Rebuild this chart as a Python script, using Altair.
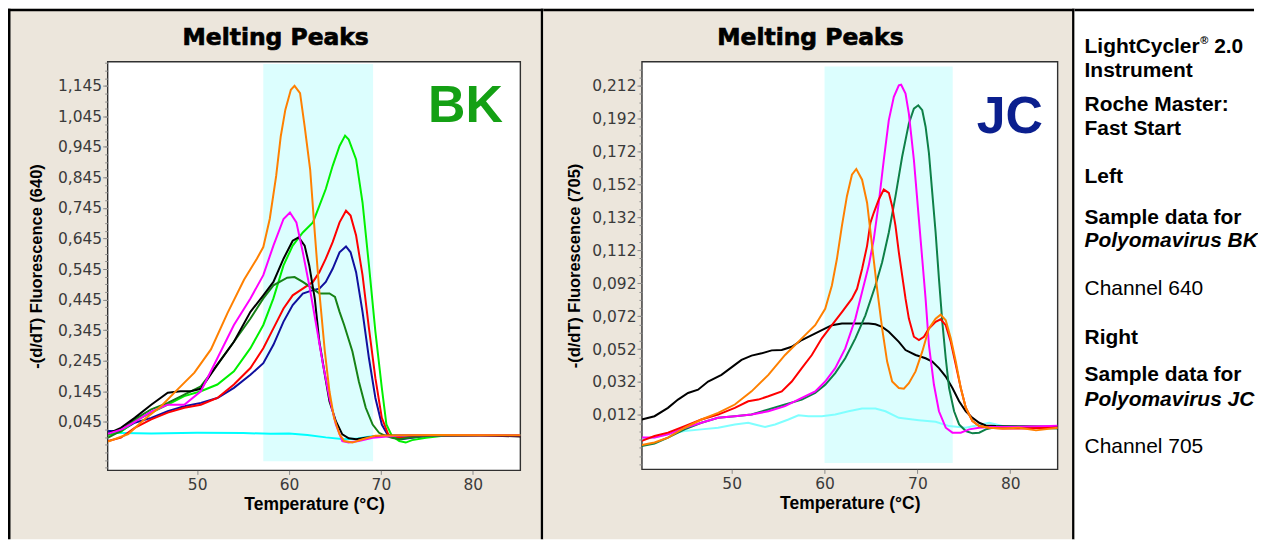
import altair as alt
import pandas as pd

# ---------------- data ----------------
# Left panel: Polyomavirus BK, channel 640
bk_orange_t = [40.3, 42.5, 44.3, 46.1, 47.9, 49.7, 51.5, 53.3, 55.1, 56.5, 57.2, 57.9, 58.6, 59.1, 59.6, 60.2, 60.6, 61.2, 61.7, 62.3, 62.8, 63.3, 63.9, 64.4, 64.9, 65.5, 66.0, 66.9, 68.0, 69.4, 72.0, 76.0, 85.2]
bk_orange_v = [-0.02, 0.005, 0.054, 0.097, 0.152, 0.206, 0.282, 0.401, 0.510, 0.579, 0.617, 0.709, 0.850, 0.980, 1.067, 1.132, 1.145, 1.121, 1.012, 0.871, 0.665, 0.470, 0.275, 0.145, 0.058, 0.004, -0.018, -0.023, -0.012, -0.001, 0.001, 0.002, 0.001]
bk_magenta_t = [40.3, 41.8, 43.2, 45.0, 46.8, 48.6, 50.4, 52.2, 54.0, 55.8, 57.2, 58.3, 59.4, 60.1, 60.8, 61.5, 62.2, 62.96, 63.7, 64.4, 65.1, 65.8, 66.5, 67.6, 69.1, 72.0, 75.0, 85.2]
bk_magenta_v = [0.006, 0.02, 0.045, 0.078, 0.101, 0.101, 0.145, 0.253, 0.362, 0.449, 0.525, 0.622, 0.709, 0.730, 0.698, 0.600, 0.492, 0.362, 0.232, 0.123, 0.036, -0.018, -0.023, -0.018, -0.007, 0.0, 0.002, 0.001]
bk_black_t = [40.3, 41.7, 43.2, 45.0, 46.8, 48.2, 49.3, 50.4, 52.2, 54.0, 55.8, 57.2, 58.3, 59.4, 60.4, 61.05, 61.7, 62.2, 62.8, 63.3, 63.9, 64.4, 65.1, 65.8, 66.5, 67.3, 68.3, 70.1, 75.0, 80.0, 85.2]
bk_black_v = [0.006, 0.025, 0.058, 0.101, 0.140, 0.145, 0.145, 0.153, 0.232, 0.307, 0.405, 0.459, 0.503, 0.579, 0.638, 0.649, 0.622, 0.557, 0.449, 0.307, 0.199, 0.112, 0.047, 0.004, -0.009, -0.012, -0.007, -0.001, 0.001, 0.002, -0.003]
bk_dkgreen_t = [40.3, 41.7, 43.2, 45.0, 46.8, 48.6, 50.4, 52.2, 54.0, 55.8, 57.2, 58.3, 59.8, 60.6, 61.5, 62.6, 63.3, 64.4, 65.0, 65.5, 66.0, 66.9, 67.6, 68.35, 69.1, 69.8, 70.5, 71.2, 72.0, 73.0, 75.5, 85.2]
bk_dkgreen_v = [-0.007, 0.015, 0.053, 0.086, 0.107, 0.134, 0.161, 0.232, 0.307, 0.383, 0.449, 0.492, 0.517, 0.519, 0.503, 0.481, 0.465, 0.465, 0.454, 0.405, 0.362, 0.275, 0.177, 0.091, 0.036, 0.009, -0.001, -0.007, -0.012, -0.007, 0.0, 0.002]
bk_green_t = [40.3, 41.7, 43.2, 45.0, 46.8, 48.6, 50.4, 52.2, 54.0, 55.8, 57.2, 58.3, 59.4, 60.4, 61.5, 62.6, 63.3, 64.0, 64.75, 65.5, 66.1, 66.5, 67.3, 68.0, 68.7, 69.4, 70.1, 70.6, 71.2, 72.0, 72.7, 73.4, 74.9, 77.0, 85.2]
bk_green_v = [0.002, 0.012, 0.047, 0.075, 0.101, 0.129, 0.145, 0.167, 0.210, 0.286, 0.362, 0.449, 0.557, 0.622, 0.665, 0.698, 0.752, 0.807, 0.883, 0.948, 0.982, 0.969, 0.904, 0.763, 0.557, 0.340, 0.156, 0.036, -0.001, -0.018, -0.023, -0.015, -0.007, 0.0, 0.002]
bk_red_t = [40.3, 41.7, 43.2, 45.0, 46.8, 48.6, 50.4, 52.2, 54.0, 55.8, 57.2, 58.3, 59.4, 60.4, 61.5, 62.6, 63.3, 64.0, 64.75, 65.5, 66.2, 66.7, 67.3, 68.0, 68.7, 69.4, 70.1, 70.8, 71.5, 72.6, 74.0, 85.2]
bk_red_v = [-0.018, -0.007, 0.025, 0.053, 0.075, 0.091, 0.101, 0.123, 0.167, 0.221, 0.286, 0.351, 0.416, 0.459, 0.481, 0.503, 0.535, 0.579, 0.633, 0.698, 0.736, 0.720, 0.655, 0.525, 0.351, 0.188, 0.058, 0.004, -0.007, -0.007, -0.001, 0.001]
bk_blue_t = [40.3, 41.7, 43.2, 45.0, 46.8, 48.6, 50.4, 52.2, 54.0, 55.8, 57.2, 58.3, 59.4, 60.4, 61.5, 62.6, 63.3, 64.0, 64.75, 65.5, 66.2, 66.7, 67.3, 68.0, 68.7, 69.4, 70.1, 70.8, 71.5, 72.2, 75.0, 85.2]
bk_blue_v = [0.015, 0.015, 0.042, 0.058, 0.080, 0.096, 0.107, 0.123, 0.156, 0.199, 0.237, 0.297, 0.373, 0.427, 0.465, 0.476, 0.481, 0.503, 0.546, 0.600, 0.619, 0.600, 0.535, 0.405, 0.253, 0.123, 0.036, -0.001, -0.007, -0.012, -0.001, 0.002]
bk_cyan_t = [40.3, 45.0, 50.0, 55.0, 58.0, 60.0, 62.0, 64.0, 66.0, 67.5, 69.0, 72.0, 85.2]
bk_cyan_v = [0.009, 0.007, 0.009, 0.008, 0.006, 0.007, 0.002, -0.006, -0.012, -0.010, -0.002, 0.001, 0.002]
bk_band_t = [57.2, 69.15]
bk_band_v = [-0.084, 1.216]
bk_x_domain = [40.26, 85.18]
bk_y_domain = [-0.114, 1.224]
bk_y_labels = [0.045, 0.145, 0.245, 0.345, 0.445, 0.545, 0.645, 0.745, 0.845, 0.945, 1.045, 1.145]

# Right panel: Polyomavirus JC, channel 705
jc_black_t = [40.32, 41.69, 43.14, 44.22, 45.30, 46.38, 47.46, 48.90, 50.34, 51.06, 52.14, 53.23, 54.31, 55.39, 56.47, 57.55, 58.63, 59.71, 60.79, 61.87, 62.95, 64.76, 65.48, 66.20, 66.92, 68.0, 68.72, 69.80, 70.88, 71.60, 72.32, 73.05, 73.77, 74.49, 75.21, 75.93, 76.65, 77.37, 78.45, 85.1]
jc_black_v = [0.0092, 0.0112, 0.0163, 0.0213, 0.0253, 0.0273, 0.0323, 0.0363, 0.0424, 0.0454, 0.0480, 0.0494, 0.0512, 0.0514, 0.0534, 0.0575, 0.0605, 0.0635, 0.0665, 0.0675, 0.0675, 0.0675, 0.0671, 0.0655, 0.0625, 0.0564, 0.0514, 0.0484, 0.0464, 0.0444, 0.0404, 0.0353, 0.0283, 0.0203, 0.0142, 0.0102, 0.0072, 0.0056, 0.0052, 0.0048]
jc_orange_t = [40.32, 41.69, 43.14, 44.94, 46.74, 48.54, 50.34, 52.14, 53.95, 55.75, 57.55, 58.99, 60.07, 60.79, 61.33, 61.87, 62.41, 62.95, 63.42, 64.04, 64.58, 65.12, 65.66, 66.20, 66.74, 67.28, 68.0, 68.54, 69.08, 69.80, 70.52, 71.24, 71.96, 72.50, 73.05, 73.59, 74.13, 74.67, 75.21, 75.93, 76.65, 77.73, 79.17, 80.97, 82.77, 85.1]
jc_orange_v = [-0.0063, -0.0048, -0.0018, 0.0042, 0.0092, 0.0132, 0.0183, 0.0263, 0.0363, 0.0484, 0.0585, 0.0665, 0.0765, 0.0906, 0.1067, 0.1268, 0.1449, 0.1579, 0.1614, 0.1549, 0.1409, 0.1147, 0.0886, 0.0645, 0.0444, 0.0323, 0.0283, 0.0279, 0.0313, 0.0384, 0.0504, 0.0645, 0.0705, 0.0729, 0.0695, 0.0585, 0.0444, 0.0283, 0.0163, 0.0082, 0.0052, 0.0042, 0.0038, 0.0042, 0.0026, 0.0042]
jc_red_t = [40.32, 41.69, 43.14, 44.94, 46.74, 48.54, 50.34, 51.78, 52.86, 53.95, 55.39, 56.47, 57.55, 58.63, 59.71, 60.79, 61.87, 62.95, 63.50, 64.04, 64.58, 64.94, 65.30, 65.84, 66.38, 66.92, 67.28, 67.64, 68.0, 68.36, 68.72, 69.08, 69.62, 70.16, 70.70, 71.24, 71.96, 72.50, 73.05, 73.59, 74.13, 74.67, 75.21, 75.93, 76.65, 77.73, 79.17, 80.97, 85.1]
jc_red_v = [-0.0038, -0.0008, 0.0012, 0.0052, 0.0092, 0.0122, 0.0163, 0.0203, 0.0213, 0.0233, 0.0263, 0.0323, 0.0404, 0.0484, 0.0585, 0.0665, 0.0745, 0.0826, 0.0886, 0.1007, 0.1147, 0.1288, 0.1348, 0.1429, 0.1489, 0.1469, 0.1388, 0.1268, 0.1107, 0.0966, 0.0826, 0.0705, 0.0595, 0.0575, 0.0595, 0.0645, 0.0685, 0.0701, 0.0665, 0.0564, 0.0424, 0.0283, 0.0163, 0.0082, 0.0052, 0.0042, 0.0038, 0.0038, 0.0042]
jc_magenta_t = [40.32, 41.69, 43.14, 44.94, 46.74, 48.54, 50.34, 52.14, 53.95, 55.75, 57.55, 58.99, 60.07, 61.15, 62.23, 63.32, 64.04, 64.76, 65.30, 65.84, 66.38, 66.92, 67.46, 68.0, 68.25, 68.72, 69.08, 69.62, 70.16, 70.52, 70.88, 71.24, 71.78, 72.32, 73.05, 73.77, 74.67, 75.57, 76.65, 77.73, 79.17, 82.77, 85.1]
jc_magenta_v = [-0.0018, -0.0018, 0.0002, 0.0042, 0.0072, 0.0102, 0.0112, 0.0122, 0.0142, 0.0173, 0.0223, 0.0263, 0.0323, 0.0404, 0.0524, 0.0705, 0.0866, 0.1027, 0.1187, 0.1409, 0.1670, 0.1911, 0.2052, 0.2122, 0.2126, 0.2072, 0.1951, 0.1670, 0.1308, 0.1067, 0.0826, 0.0544, 0.0303, 0.0142, 0.0042, 0.0012, 0.0012, 0.0032, 0.0042, 0.0046, 0.0046, 0.0050, 0.0054]
jc_dkgreen_t = [40.32, 41.69, 43.14, 44.94, 46.74, 48.54, 50.34, 52.14, 53.95, 55.75, 57.55, 58.99, 60.07, 61.15, 62.23, 63.32, 64.40, 65.48, 66.20, 66.92, 67.64, 68.36, 69.08, 69.62, 70.09, 70.52, 70.88, 71.24, 71.60, 71.96, 72.32, 72.68, 73.05, 73.41, 73.95, 74.49, 75.21, 75.93, 76.65, 77.37, 78.45, 80.97, 82.77, 85.1]
jc_dkgreen_v = [-0.0069, -0.0054, -0.0018, 0.0032, 0.0072, 0.0102, 0.0112, 0.0122, 0.0153, 0.0183, 0.0213, 0.0253, 0.0303, 0.0374, 0.0464, 0.0585, 0.0725, 0.0906, 0.1047, 0.1228, 0.1449, 0.1690, 0.1891, 0.1981, 0.2001, 0.1971, 0.1871, 0.1710, 0.1469, 0.1228, 0.0946, 0.0685, 0.0464, 0.0283, 0.0142, 0.0062, 0.0022, 0.0008, 0.0012, 0.0032, 0.0046, 0.0052, 0.0042, 0.0038]
jc_cyan_t = [40.32, 41.69, 43.14, 44.94, 46.74, 48.54, 50.34, 51.78, 52.50, 53.59, 54.67, 56.11, 57.19, 58.27, 59.71, 61.15, 62.59, 64.04, 65.48, 66.56, 68.0, 70.16, 71.96, 73.41, 75.21, 77.73, 79.17, 80.97, 85.1]
jc_cyan_v = [-0.0028, -0.0018, 0.0002, 0.0022, 0.0032, 0.0042, 0.0062, 0.0072, 0.0062, 0.0046, 0.0062, 0.0092, 0.0118, 0.0112, 0.0112, 0.0122, 0.0142, 0.0159, 0.0159, 0.0142, 0.0102, 0.0088, 0.0078, 0.0052, 0.0042, 0.0072, 0.0052, 0.0046, 0.0042]
jc_band_t = [60.0, 73.8]
jc_band_v = [-0.0173, 0.2237]
jc_x_domain = [40.34, 85.1]
jc_y_domain = [-0.0211, 0.2266]
jc_y_labels = [0.012, 0.032, 0.052, 0.072, 0.092, 0.112, 0.132, 0.152, 0.172, 0.192, 0.212]

x_labels = [50, 60, 70, 80]

info_lines = ["Instrument", "Roche Master:", "Fast Start", "Left", "Sample data for",
              "Polyomavirus BK", "Channel 640", "Right", "Sample data for",
              "Polyomavirus JC", "Channel 705"]
info_title = ["LightCycler", "\u00ae", "2.0"]

# ---------------- styling / layout ----------------
FONT = "Liberation Sans"
TICKFONT = "DejaVu Sans"
BEIGE = "#ECE6DC"
BAND = "#DCFEFE"
one = pd.DataFrame({"k": [0]})


def vrect(x, x2, y, y2, **kw):
    return alt.Chart(one).mark_rect(**kw).encode(
        x=alt.value(x), x2=alt.value(x2), y=alt.value(y), y2=alt.value(y2))


def txt(s, x, y, size, weight="normal", style="normal", color="black",
        align="left", font=FONT, baseline="middle", **kw):
    return alt.Chart(one).mark_text(
        text=s, font=font, fontSize=size, fontWeight=weight, fontStyle=style,
        color=color, align=align, baseline=baseline, **kw).encode(x=alt.value(x), y=alt.value(y))


def minor_ticks(start, step, dom):
    out = []
    k = -40
    while True:
        val = start + k * step
        if val > dom[1]:
            break
        if val >= dom[0]:
            out.append(round(val, 4))
        k += 1
    return out


PH = 532      # whole panel height (page y 8 .. 540)
TOP = 53      # plot top below the panel top
BW = 2.5      # border width


def panel(series, band_t, band_v, xdom, ydom, ylabels, minor_step, ytitle, tag,
          tag_color, tag_x, tag_y, W, H, L, PW, left_border, title_x, ytitle_x):
    xs = alt.Scale(domain=xdom, nice=False, zero=False)
    ys = alt.Scale(domain=ydom, nice=False, zero=False)
    layers = [vrect(-L, PW - L, -TOP, PH - TOP, fill=BEIGE),
              vrect(-L, PW - L, -TOP, -TOP + BW, fill="black"),
              vrect(PW - L - BW, PW - L, -TOP, PH - TOP, fill="black")]
    if left_border:
        layers.append(vrect(-L, -L + BW, -TOP, PH - TOP, fill="black"))
    layers.append(vrect(0, W, 0, H, fill="white", stroke="#303030", strokeWidth=1.4))

    band_df = pd.DataFrame({"t0": [band_t[0]], "t1": [band_t[1]],
                            "v0": [band_v[0]], "v1": [band_v[1]]})
    minor_axis = alt.Axis(values=minor_ticks(ylabels[0], minor_step, ydom), labels=False,
                          tickSize=3, tickColor="#8a8a8a", domain=False, grid=False,
                          title="", orient="left", zindex=1)
    xaxis = alt.Axis(values=x_labels, labelFontSize=15.5, labelFont=TICKFONT, labelColor="#3a3a3a",
                     tickColor="#8a8a8a", tickSize=4, labelPadding=3.5, domain=False, grid=False,
                     title="Temperature (\u00b0C)", titleFont=FONT, titleFontSize=17.5,
                     titleFontWeight="bold", titleColor="black", titleX=W / 2, titleY=34,
                     titleAlign="center", titleBaseline="middle", orient="bottom", zindex=1,
                     labelFlush=False)
    layers.append(alt.Chart(band_df).mark_rect(color=BAND).encode(
        x=alt.X("t0:Q", scale=xs, axis=xaxis), x2="t1:Q",
        y=alt.Y("v0:Q", scale=ys, axis=minor_axis), y2="v1:Q"))

    yaxis = alt.Axis(values=ylabels, labelExpr="replace(format(datum.value, '.3f'), '.', ',')",
                     labelFontSize=15.5, labelFont=TICKFONT, labelColor="#3a3a3a", tickColor="#8a8a8a",
                     tickSize=5, labelPadding=1, domain=False, grid=False, title=ytitle,
                     titleFont=FONT, titleFontSize=16.5, titleFontWeight="bold", titleColor="black",
                     titleAngle=270, titleX=ytitle_x, titleY=H / 2, titleAlign="center",
                     titleBaseline="middle", orient="left", zindex=1)
    first = True
    for t, v, c in series:
        df = pd.DataFrame({"t": t, "v": v})
        layers.append(alt.Chart(df).mark_line(color=c, strokeWidth=2, clip=True).encode(
            x=alt.X("t:Q", scale=xs, axis=None),
            y=alt.Y("v:Q", scale=ys, axis=yaxis if first else None)))
        first = False

    layers.append(txt(tag, tag_x, tag_y, 52, weight="bold", color=tag_color,
                      align="center", baseline="alphabetic"))
    layers.append(txt("Melting Peaks", title_x, -23.5, 23.5, weight="bold", align="center",
                      font="DejaVu Sans", stroke="black", strokeWidth=0.7))
    return alt.layer(*layers).resolve_axis(x="independent", y="independent").properties(
        width=W, height=H)


left = panel(
    [(bk_cyan_t, bk_cyan_v, "#00FFFF"), (bk_blue_t, bk_blue_v, "#10109E"),
     (bk_red_t, bk_red_v, "#FF0000"), (bk_green_t, bk_green_v, "#00F000"),
     (bk_dkgreen_t, bk_dkgreen_v, "#168216"), (bk_black_t, bk_black_v, "#000000"),
     (bk_magenta_t, bk_magenta_v, "#FF00FF"), (bk_orange_t, bk_orange_v, "#FF8000")],
    bk_band_t, bk_band_v, bk_x_domain, bk_y_domain, bk_y_labels, 0.025,
    "-(d/dT) Fluorescence (640)", "BK", "#14A014", 359, 61,
    W=414, H=410, L=100, PW=537, left_border=True, title_x=168.5, ytitle_x=-71.5)

right = panel(
    [(jc_cyan_t, jc_cyan_v, "#80FFFF"), (jc_black_t, jc_black_v, "#000000"),
     (jc_dkgreen_t, jc_dkgreen_v, "#0E8048"), (jc_magenta_t, jc_magenta_v, "#FF00FF"),
     (jc_red_t, jc_red_v, "#FF0000"), (jc_orange_t, jc_orange_v, "#FF8000")],
    jc_band_t, jc_band_v, jc_x_domain, jc_y_domain, jc_y_labels, 0.005,
    "-(d/dT) Fluorescence (705)", "JC", "#0B1F8E", 369, 72,
    W=417, H=409, L=99, PW=533, left_border=False, title_x=169, ytitle_x=-68)

# text panel: its origin is aligned with the plot tops (page y = 8 + TOP)
ys_info = [62, 96, 121, 169, 210, 233, 281, 330, 367, 392, 440]
styles = ["b", "b", "b", "b", "b", "bi", "n", "b", "b", "bi", "n"]
FS = 21
info_layers = [vrect(0, 180, -TOP, PH - TOP, fill="white"),
               vrect(0, 180, -TOP, -TOP + BW, fill="black"),
               txt(info_title[0], 10, 38 - TOP, FS, weight="bold"),
               txt(info_title[1], 126, 32 - TOP, 11, weight="bold"),
               txt(info_title[2], 140, 38 - TOP, FS, weight="bold")]
for s, yy, st in zip(info_lines, ys_info, styles):
    info_layers.append(txt(s, 10, yy - TOP, FS, weight="normal" if st == "n" else "bold",
                           style="italic" if st == "bi" else "normal"))
info = alt.layer(*info_layers).properties(width=180, height=PH - TOP)

chart = alt.hconcat(left, right, info, spacing=0).properties(
    padding=0, background="white").configure_view(strokeWidth=0)

chart.save("out.html", embed_options={"renderer": "svg", "actions": False})
